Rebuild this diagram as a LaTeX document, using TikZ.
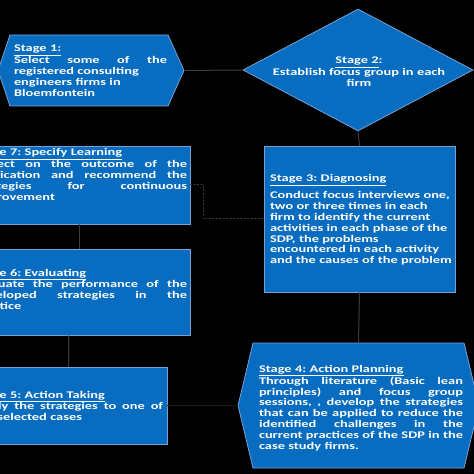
\documentclass[tikz,border=0pt]{standalone}
\usepackage{fontspec}
\newfontfamily\cfont[FakeStretch=1.41]{Carlito}
\usetikzlibrary{calc,shapes.geometric}
\definecolor{boxfill}{RGB}{8,108,192}
\definecolor{boxline}{RGB}{120,160,210}
\definecolor{conn}{RGB}{60,60,60}
\definecolor{faint}{RGB}{28,28,28}
\newcommand\jl[2]{\leavevmode\hbox to #1{\spaceskip=0.2em plus 3em\relax #2}}
\frenchspacing
\begin{document}
\begin{tikzpicture}[x=1bp,y=-1bp,
  box/.style={fill=boxfill,draw=boxline,line width=0.8bp},
  ghost/.style={inner sep=0pt,outer sep=0pt,draw=none},
  txt/.style={text=white,inner sep=0pt,outer sep=0pt,anchor=base west,align=left,font=\cfont\bfseries\frenchspacing\fontsize{10.2bp}{10.8bp}\selectfont},
  link/.style={draw=conn,line width=1bp},
  ]
\useasboundingbox (0,0) rectangle (474,474);
\clip (0,0) rectangle (474,474);
\fill[black] (0,0) rectangle (474,474);

% Stage 1 hexagon
\node[ghost,minimum width=186bp,minimum height=71bp] (s1) at (91,70.5) {};
\draw[box] ($(s1.north west)+(12,0)$) -- ($(s1.north east)+(-16,0)$) -- (s1.east) -- ($(s1.south east)+(-16,0)$) -- ($(s1.south west)+(12,0)$) -- (s1.west) -- cycle;

% Stage 2 diamond
\node[box,diamond,aspect=1.885,minimum width=230bp,minimum height=122bp,inner sep=0pt] (s2) at (358,70) {};

% Stage 3
\node[box,minimum width=191bp,minimum height=146bp,inner sep=0pt] (s3) at (359.5,219) {};
% Stage 7
\node[box,minimum width=220bp,minimum height=78bp,inner sep=0pt] (s7) at (80,185) {};
% Stage 6
\node[box,minimum width=220bp,minimum height=86bp,inner sep=0pt] (s6) at (80,292) {};
% Stage 5
\node[box,minimum width=197bp,minimum height=77bp,inner sep=0pt] (s5) at (68.5,405.5) {};
% Stage 4 hexagon
\node[ghost,minimum width=241bp,minimum height=125bp] (s4) at (358.5,405.5) {};
\draw[box] ($(s4.north west)+(15,0)$) -- ($(s4.north east)+(-15,0)$) -- (s4.east) -- ($(s4.south east)+(-15,0)$) -- ($(s4.south west)+(15,0)$) -- (s4.west) -- cycle;

% connectors
\draw[link] (s1.east) -- (s2.west);
\draw[link] (s2.south) -- (s3.north);
\draw[link] (s3.south) -- (s4.north);
\draw[link,draw=faint] (s4.west) -- (s5.east);
\draw[link] ($(s5.north west)+(99,0)$) -- ($(s6.south west)+(99,0)$);
\draw[link] ($(s6.north west)+(110,0)$) -- ($(s7.south west)+(110,0)$);
\draw[link,dash pattern=on 2bp off 1.5bp] (s7.east) -- ++(13,0) |- (s3.west);

% texts
\node[txt,text width=153bp] (t1) at (14,52) {\underline{Stage 1:}\\ \jl{153bp}{Select some of the}\\ registered consulting\\ engineers firms in\\ Bloemfontein};
\node[txt,text width=220bp,align=center,anchor=base] (t2) at (359,64) {\underline{Stage 2}:\\ Establish focus group in each\\ firm};
\node[txt,text width=185bp] (t3) at (270,182) {\underline{Stage 3: Diagnosing}\\[5bp] Conduct focus interviews one,\\ two or three times in each\\ firm to identify the current\\ activities in each phase of the\\ SDP, the problems\\ encountered in each activity\\ and the causes of the problem};
\node[txt,text width=213bp] (t7) at (-26,156) {\underline{Stage 7: Specify Learning}\\ \jl{213bp}{Reflect on the outcome of the}\\ \jl{213bp}{application and recommend the}\\ \jl{213bp}{strategies for continuous}\\ improvement};
\node[txt,text width=213bp] (t6) at (-26,276) {\underline{Stage 6: Evaluating}\\ \jl{213bp}{Evaluate the performance of the}\\ \jl{213bp}{developed strategies in the}\\ practice};
\node[txt,text width=189bp] (t5) at (-26,398) {\underline{Stage 5: Action Taking}\\ \jl{189bp}{Apply the strategies to one of}\\ the selected cases};
\node[txt,text width=204bp] (t4) at (259,372) {\underline{Stage 4: Action Planning}\\ \jl{204bp}{Through literature (Basic lean}\\ \jl{204bp}{principles) and focus group}\\ \jl{204bp}{sessions, , develop the strategies}\\ \jl{204bp}{that can be applied to reduce the}\\ \jl{204bp}{identified challenges in the}\\ \jl{204bp}{current practices of the SDP in the}\\ case study firms.};
\end{tikzpicture}
\end{document}
